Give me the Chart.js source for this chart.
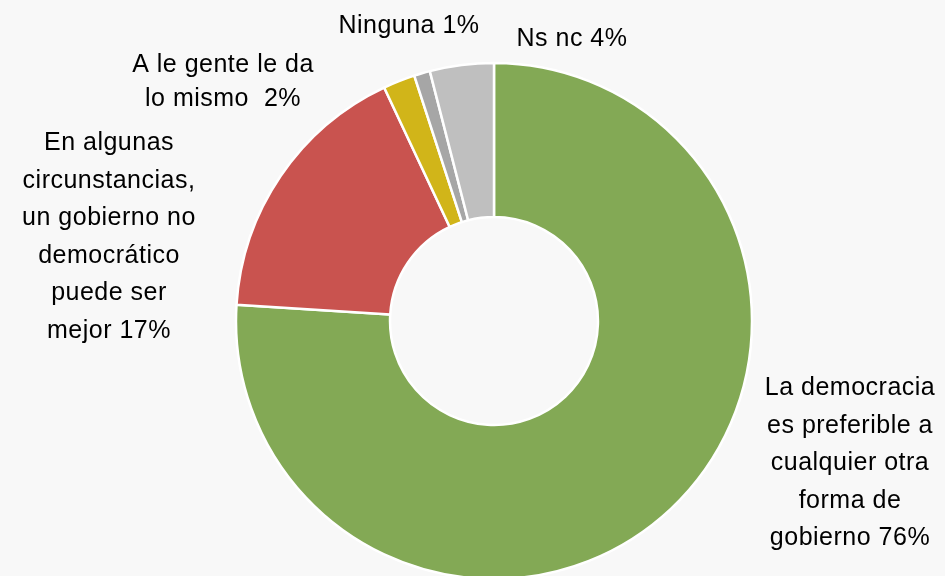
<!DOCTYPE html>
<html>
<head>
<meta charset="utf-8">
<script src="https://cdn.jsdelivr.net/npm/chart.js@4"></script>
<style>
  html, body { margin: 0; padding: 0; background: #f8f8f8; }
  #wrap { width: 945px; height: 576px; position: relative; }
</style>
</head>
<body>
<div id="wrap"><canvas id="c" width="945" height="576"></canvas></div>
<script>
// ---- Data ----
const categories = [
  ["La democracia", "es preferible a", "cualquier otra", "forma de", "gobierno"],
  ["En algunas", "circunstancias,", "un gobierno no", "democrático", "puede ser", "mejor"],
  ["A le gente le da", "lo mismo "],
  ["Ninguna"],
  ["Ns nc"]
];
const values = [76, 17, 2, 1, 4];
const colors = ["#83a955", "#c9534f", "#d1b519", "#a6a6a6", "#bfbfbf"];

// ---- Label layout (offsets from the doughnut centre; text centre x, first baseline y) ----
const labelLayout = [
  { dx: 356, dy: 74, lh: 37.5 },
  { dx: -385, dy: -171, lh: 37.5 },
  { dx: -271, dy: -249, lh: 34 },
  { dx: -85, dy: -288, lh: 34 },
  { dx: 78, dy: -275, lh: 34 }
];

const labelPlugin = {
  id: 'outLabels',
  afterDraw(chart) {
    const ctx = chart.ctx;
    const meta = chart.getDatasetMeta(0);
    ctx.save();
    ctx.fillStyle = '#000';
    ctx.font = '25px "Liberation Sans", Arial, sans-serif';
    ctx.textAlign = 'center';
    ctx.textBaseline = 'alphabetic';
    try { ctx.letterSpacing = '0.5px'; } catch (e) {}
    meta.data.forEach((arc, i) => {
      const lines = categories[i].slice();
      lines[lines.length - 1] = lines[lines.length - 1] + ' ' + values[i] + '%';
      const L = labelLayout[i];
      lines.forEach((t, k) => {
        ctx.fillText(t, arc.x + L.dx, arc.y + L.dy + k * L.lh);
      });
    });
    ctx.restore();
  }
};

new Chart(document.getElementById('c'), {
  type: 'doughnut',
  data: {
    labels: categories.map(c => c.join(' ')),
    datasets: [{
      data: values,
      backgroundColor: colors,
      borderColor: '#ffffff',
      borderWidth: 2.5,
      radius: 258,
      cutout: '40.3%'
    }]
  },
  options: {
    responsive: false,
    animation: false,
    layout: { padding: { left: 43, right: 0, top: 66, bottom: 0 } },
    plugins: {
      legend: { display: false },
      tooltip: { enabled: false },
      title: { display: false }
    }
  },
  plugins: [labelPlugin]
});
</script>
</body>
</html>
